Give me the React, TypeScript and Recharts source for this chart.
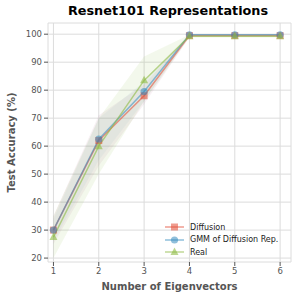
import React from 'react';
import { ComposedChart, Line, Area, XAxis, YAxis, CartesianGrid } from 'recharts';

const eigenvectors = [1, 2, 3, 4, 5, 6];
const diffusion = [30, 62, 78, 99.5, 99.5, 99.5];
const gmmDiffusion = [30, 62.5, 79.5, 99.8, 99.8, 99.8];
const real = [27.5, 60, 83.5, 99.3, 99.3, 99.3];
const diffusionLow = [25, 53, 75, 99, 99, 99];
const diffusionHigh = [35, 71, 82, 100, 100, 100];
const gmmLow = [26, 55, 76, 99.5, 99.5, 99.5];
const gmmHigh = [34, 70, 83, 100, 100, 100];
const realLow = [20, 50, 76, 98.8, 98.8, 98.8];
const realHigh = [35, 70, 92, 99.8, 99.8, 99.8];
const yTicks = [20, 30, 40, 50, 60, 70, 80, 90, 100];

const RED = '#E24A33';
const BLUE = '#348ABD';
const GREEN = '#8EBA42';

const data = eigenvectors.map((x, i) => ({
  x,
  diffusion: diffusion[i],
  gmm: gmmDiffusion[i],
  real: real[i],
  diffBand: [diffusionLow[i], diffusionHigh[i]],
  gmmBand: [gmmLow[i], gmmHigh[i]],
  realBand: [realLow[i], realHigh[i]],
}));

const Square = ({ cx, cy }: any) =>
  cx == null ? null : <rect x={cx - 3.5} y={cy - 3.5} width={7} height={7} fill={RED} fillOpacity={0.55} />;
const Circle = ({ cx, cy }: any) =>
  cx == null ? null : <circle cx={cx} cy={cy} r={3.6} fill={BLUE} fillOpacity={0.55} />;
const Triangle = ({ cx, cy }: any) =>
  cx == null ? null : (
    <polygon points={`${cx},${cy - 4.5} ${cx - 4},${cy + 3} ${cx + 4},${cy + 3}`} fill={GREEN} fillOpacity={0.6} />
  );

const legendItems = [
  { label: 'Diffusion', color: RED, Marker: Square },
  { label: 'GMM of Diffusion Rep.', color: BLUE, Marker: Circle },
  { label: 'Real', color: GREEN, Marker: Triangle },
];

const LegendBox = () => (
  <div style={{ position: 'absolute', left: 164, top: 221, fontFamily: 'DejaVu Sans', fontSize: 8, color: '#222' }}>
    {legendItems.map(({ label, color, Marker }) => (
      <div key={label} style={{ display: 'flex', alignItems: 'center', height: 12.5 }}>
        <svg width={22} height={10}>
          <line x1={1} y1={5} x2={20} y2={5} stroke={color} strokeOpacity={0.55} strokeWidth={1.5} />
          <Marker cx={10.5} cy={5} />
        </svg>
        <span style={{ marginLeft: 4 }}>{label}</span>
      </div>
    ))}
  </div>
);

const App: React.FC = () => (
  <div style={{ position: 'absolute', left: 0, top: 0, width: 299, height: 299, background: '#fff' }}>
    <div
      style={{
        position: 'absolute',
        left: 48,
        width: 240,
        top: 3,
        textAlign: 'center',
        fontFamily: 'DejaVu Sans',
        fontWeight: 'bold',
        fontSize: 12.8,
        color: '#000',
      }}
    >
      Resnet101 Representations
    </div>
    <ComposedChart width={299} height={299} data={data} margin={{ top: 23, right: 8, bottom: 0, left: 0 }}>
      <CartesianGrid stroke="#dcdcdc" strokeWidth={1} />
      <XAxis
        dataKey="x"
        type="number"
        domain={[0.88, 6.24]}
        ticks={eigenvectors}
        axisLine={false}
        tickLine={{ stroke: '#555' }}
        tickSize={4}
        height={37}
        tick={{ fontFamily: 'DejaVu Sans', fontSize: 8.5, fill: '#555' }}
        label={{
          value: 'Number of Eigenvectors',
          position: 'insideBottom',
          offset: 9,
          style: { fontFamily: 'DejaVu Sans', fontWeight: 'bold', fontSize: 10, fill: '#555' },
        }}
      />
      <YAxis
        type="number"
        domain={[18.6, 104]}
        ticks={yTicks}
        axisLine={false}
        tickLine={{ stroke: '#555' }}
        tickSize={4}
        width={48}
        tick={{ fontFamily: 'DejaVu Sans', fontSize: 8.5, fill: '#555' }}
        label={{
          value: 'Test Accuracy (%)',
          angle: -90,
          position: 'insideLeft',
          offset: 11,
          style: { fontFamily: 'DejaVu Sans', fontWeight: 'bold', fontSize: 10, fill: '#555', textAnchor: 'middle' },
        }}
      />
      <Area dataKey="diffBand" stroke="none" fill="#a0507a" fillOpacity={0.08} isAnimationActive={false} />
      <Area dataKey="gmmBand" stroke="none" fill={BLUE} fillOpacity={0.06} isAnimationActive={false} />
      <Area dataKey="realBand" stroke="none" fill={GREEN} fillOpacity={0.1} isAnimationActive={false} />
      <Line dataKey="diffusion" stroke={RED} strokeOpacity={0.55} strokeWidth={1.5} dot={<Square />} activeDot={false} isAnimationActive={false} />
      <Line dataKey="gmm" stroke={BLUE} strokeOpacity={0.55} strokeWidth={1.5} dot={<Circle />} activeDot={false} isAnimationActive={false} />
      <Line dataKey="real" stroke={GREEN} strokeOpacity={0.6} strokeWidth={1.5} dot={<Triangle />} activeDot={false} isAnimationActive={false} />
    </ComposedChart>
    <LegendBox />
  </div>
);

export default App;
